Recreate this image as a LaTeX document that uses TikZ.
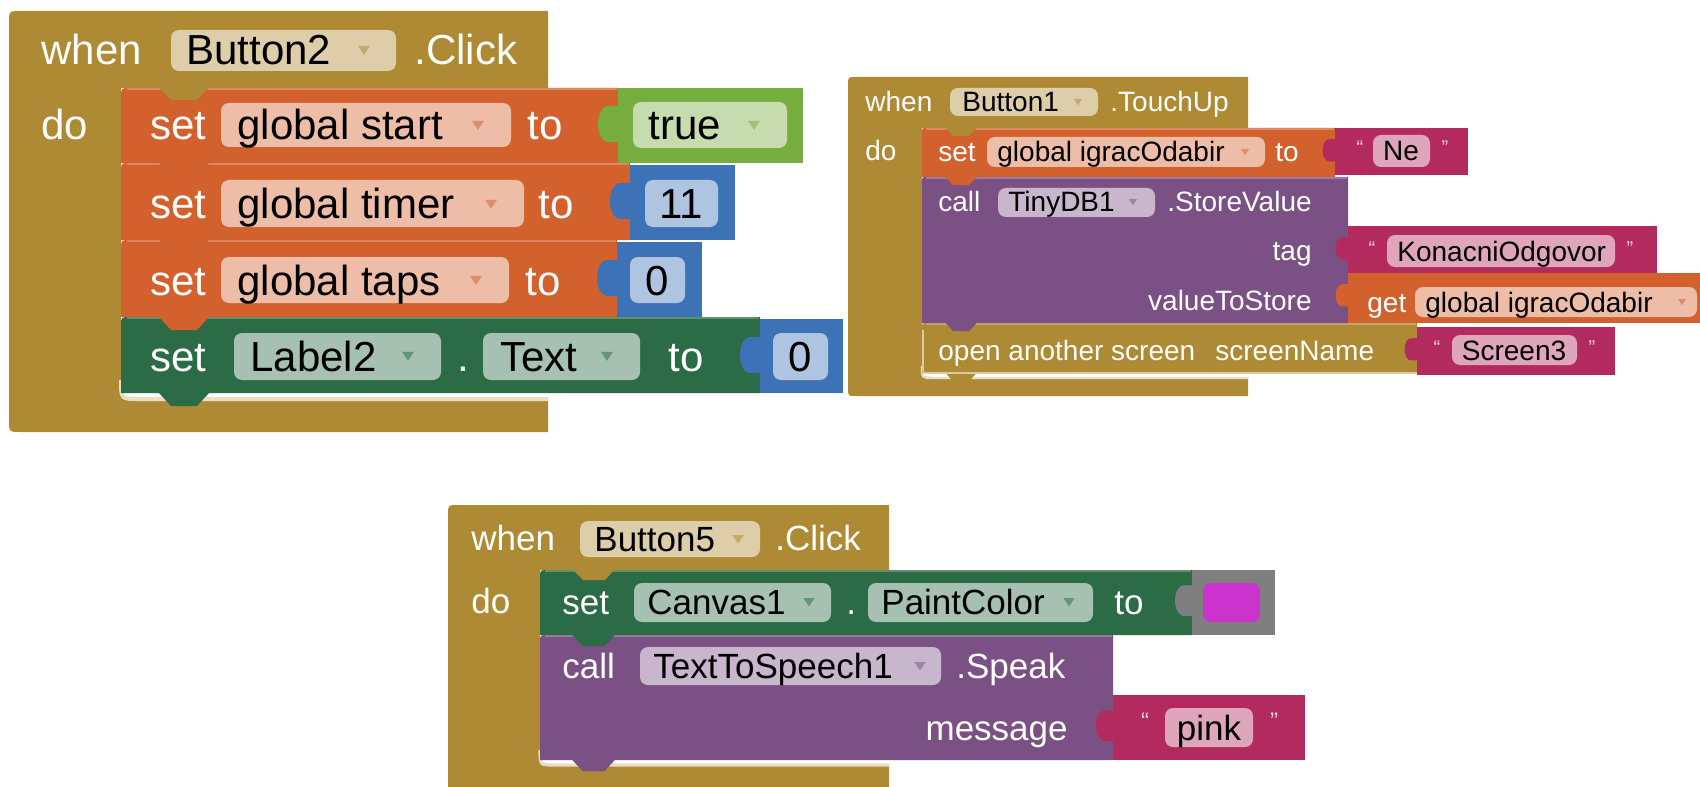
\documentclass[tikz,border=0pt]{standalone}
\usepackage{fontspec}
\setmainfont{Liberation Sans}
\definecolor{ctrl}{HTML}{AD8A33}
\definecolor{varo}{HTML}{D3612E}
\definecolor{cgreen}{HTML}{2B6B46}
\definecolor{lgreen}{HTML}{77AC3F}
\definecolor{mblue}{HTML}{3E72B6}
\definecolor{purp}{HTML}{7B5085}
\definecolor{mag}{HTML}{B32A5E}
\definecolor{cgray}{HTML}{7F7F7F}
\definecolor{swatch}{HTML}{CB33CC}
% statement block: color, x1, y1, x2, y2, scale
\newcommand\bkStmt[6]{%
 \fill[#1] (#2,#5) -- (#2,{#3+9*#6}) .. controls (#2,#3) .. ({#2+9*#6},#3) -- (#4,#3) -- (#4,#5) -- ({#2+88*#6},#5) -- ({#2+76*#6},{#5+13*#6}) -- ({#2+50*#6},{#5+13*#6}) -- ({#2+38*#6},#5) -- cycle;
 \draw[#1!75!white, line width=0.6pt] ({#2+6*#6},{#3+1}) -- ({#4-1},{#3+1});}
% value block: color, x1, y1, x2, y2, scale
\newcommand\bkVal[6]{%
 \fill[#1] (#2,#3) rectangle (#4,#5);
 \fill[#1] ({#2+1},{#3+18*#6}) -- ({#2-8*#6},{#3+18*#6}) .. controls ({#2-24*#6},{#3+16*#6}) and ({#2-24*#6},{#3+56*#6}) .. ({#2-8*#6},{#3+54*#6}) -- ({#2+1},{#3+54*#6}) -- cycle;}
% field: x1 y1 x2 y2 color
\newcommand\bkFld[5]{\fill[white!58!#5, rounded corners=4pt] (#1,#2) rectangle (#3,#4);}
% dropdown arrow: cx cy size color
\newcommand\bkArr[4]{\fill[#4!72!white] ({#1-#3},{#2-0.7*#3}) -- ({#1+#3},{#2-0.7*#3}) -- (#1,{#2+0.8*#3}) -- cycle;}
\tikzset{
 t1/.style={font=\fontsize{21}{21}\selectfont, text height=15pt, text depth=0pt, inner sep=0pt, anchor=west, text=white},
 f1/.style={t1, text=black},
 t2/.style={font=\fontsize{14}{14}\selectfont, text height=10pt, text depth=0pt, inner sep=0pt, anchor=west, text=white},
 f2/.style={t2, text=black},
 t3/.style={font=\fontsize{17.5}{17.5}\selectfont, text height=12.5pt, text depth=0pt, inner sep=0pt, anchor=west, text=white},
 f3/.style={t3, text=black},
 q2/.style={font=\fontsize{10}{10}\selectfont, text=white!80!mag, anchor=base, inner sep=0pt},
 q3/.style={font=\fontsize{12}{12}\selectfont, text=white!80!mag, anchor=base, inner sep=0pt},
}
\begin{document}
\begin{tikzpicture}[x=0.5pt,y=-0.5pt]
\useasboundingbox (0,0) rectangle (1700,786);
\fill[white] (0,0) rectangle (1700,786);
\clip (0,0) rectangle (1700,786);

%================ Block 1 =================
\fill[ctrl] (548,88) -- (548,11) -- (21,11) .. controls (9,11) .. (9,23) -- (9,420) .. controls (9,432) .. (21,432) -- (548,432) -- (548,397) -- (135,397) .. controls (121,397) .. (121,383) -- (121,88) -- cycle;
\draw[white!72!ctrl, line width=2pt] (121,380) .. controls (121,399) .. (138,399) -- (548,399);
\bkStmt{cgreen}{121}{317}{760}{393}{1}
\bkStmt{varo}{121}{240}{617}{317}{1}
\bkStmt{varo}{121}{163}{630}{240}{1}
\bkStmt{varo}{121}{88}{618}{163}{1}
\fill[ctrl] (159,87) -- (171,100) -- (197,100) -- (209,87) -- cycle;
\bkVal{lgreen}{618}{88}{803}{163}{1}
\bkVal{mblue}{630}{165}{735}{240}{1}
\bkVal{mblue}{617}{242}{702}{317}{1}
\bkVal{mblue}{760}{319}{843}{393}{1}

\node[t1] (w1) at (41,50) {when};
\bkFld{171}{30}{396}{71}{ctrl}
\node[f1] (btn2) at (186,50) {Button2};
\bkArr{364}{50}{6}{ctrl}
\node[t1] (clk1) at (414,50) {.Click};
\node[t1] (do1) at (41,125) {do};

\node[t1] (set1) at (150,125) {set};
\bkFld{221}{103}{511}{147}{varo}
\node[f1] (gs) at (237,125) {global start};
\bkArr{478}{125}{6}{varo}
\node[t1] (to1) at (527,125) {to};
\bkFld{633}{102}{787}{148}{lgreen}
\node[f1] (tru) at (648,125) {true};
\bkArr{754}{125}{6}{lgreen}

\node[t1] (set2) at (150,204) {set};
\bkFld{221}{180}{524}{227}{varo}
\node[f1] (gt) at (237,204) {global timer};
\bkArr{491}{204}{6}{varo}
\node[t1] (to2) at (538,204) {to};
\bkFld{645}{180}{718}{227}{mblue}
\node[f1, anchor=center] (n11) at (681,204) {11};

\node[t1] (set3) at (150,280) {set};
\bkFld{221}{257}{509}{303}{varo}
\node[f1] (gtp) at (237,280) {global taps};
\bkArr{476}{280}{6}{varo}
\node[t1] (to3) at (525,280) {to};
\bkFld{630}{257}{685}{303}{mblue}
\node[f1, anchor=center] (n0a) at (657,280) {0};

\node[t1] (set4) at (150,356) {set};
\bkFld{234}{333}{441}{380}{cgreen}
\node[f1] (lb2) at (250,356) {Label2};
\bkArr{408}{356}{6}{cgreen}
\node[t1] (dot1) at (457,356) {.};
\bkFld{483}{333}{640}{380}{cgreen}
\node[f1] (txt) at (500,356) {Text};
\bkArr{607}{356}{6}{cgreen}
\node[t1] (to4) at (668,356) {to};
\bkFld{773}{333}{828}{380}{mblue}
\node[f1, anchor=center] (n0b) at (800,356) {0};

%================ Block 2 =================
\fill[ctrl] (1248,128) -- (1248,77) -- (856,77) .. controls (848,77) .. (848,85) -- (848,388) .. controls (848,396) .. (856,396) -- (1248,396) -- (1248,377) -- (931,377) .. controls (922,377) .. (922,368) -- (922,128) -- cycle;
\draw[white!72!ctrl, line width=1.2pt] (922,366) .. controls (922,378) .. (933,378) -- (1248,378);
\bkStmt{ctrl}{922}{323}{1417}{373}{0.62}
\draw[white!55!ctrl, line width=0.8pt] (1417,373) -- (928,373) .. controls (923,373) .. (923,368) -- (923,330);
\bkStmt{purp}{922}{177}{1348}{323}{0.62}
\bkStmt{varo}{922}{128}{1335}{177}{0.62}
\fill[ctrl] (945,127) -- (953,136) -- (969,136) -- (977,127) -- cycle;
\bkVal{mag}{1335}{128}{1468}{175}{0.62}
\bkVal{mag}{1348}{226}{1657}{273}{0.62}
\bkVal{varo}{1348}{273}{1700}{323}{0.62}
\bkVal{mag}{1417}{327}{1615}{375}{0.62}

\node[t2] (w2) at (865,102) {when};
\bkFld{950}{88}{1098}{116}{ctrl}
\node[f2] (btn1) at (962,102) {Button1};
\bkArr{1078}{102}{4}{ctrl}
\node[t2] (tup) at (1110,102) {.TouchUp};
\node[t2] (do2) at (865,151) {do};
\node[t2] (set5) at (938,152) {set};
\bkFld{987}{137}{1265}{167}{varo}
\node[f2] (gio) at (997,152) {global igracOdabir};
\bkArr{1245}{152}{4}{varo}
\node[t2] (to5) at (1275,152) {to};
\node[q2] (qa1) at (1360,155) {“};
\bkFld{1373}{135}{1430}{167}{mag}
\node[f2, anchor=center] (ne) at (1401,151) {Ne};
\node[q2] (qa2) at (1445,155) {”};

\node[t2] (call1) at (938,202) {call};
\bkFld{998}{188}{1155}{217}{purp}
\node[f2] (tdb) at (1008,202) {TinyDB1};
\bkArr{1133}{202}{4}{purp}
\node[t2] (sv) at (1167,202) {.StoreValue};
\node[t2, anchor=east] (tag) at (1312,250) {tag};
\node[t2, anchor=east] (vts) at (1312,300) {valueToStore};
\node[q2] (qb1) at (1372,255) {“};
\bkFld{1387}{235}{1615}{267}{mag}
\node[f2] (kon) at (1397,251) {KonacniOdgovor};
\node[q2] (qb2) at (1630,255) {”};
\node[t2] (get) at (1367,302) {get};
\bkFld{1415}{287}{1697}{317}{varo}
\node[f2] (gio2) at (1425,302) {global igracOdabir};
\bkArr{1682}{302}{4}{varo}
\node[t2] (oas) at (938,350) {open another screen};
\node[t2] (scn) at (1215,350) {screenName};
\node[q2] (qc1) at (1437,354) {“};
\bkFld{1452}{335}{1577}{365}{mag}
\node[f2, anchor=center] (scr3) at (1514,350) {Screen3};
\node[q2] (qc2) at (1592,354) {”};

%================ Block 3 =================
\fill[ctrl] (889,570) -- (889,505) -- (458,505) .. controls (448,505) .. (448,515) -- (448,800) -- (889,800) -- (889,764) -- (551,764) .. controls (540,764) .. (540,753) -- (540,570) -- cycle;
\draw[white!72!ctrl, line width=1.6pt] (540,750) .. controls (540,765) .. (554,765) -- (889,765);
\bkStmt{purp}{540}{635}{1113}{760}{0.85}
\bkStmt{cgreen}{540}{570}{1192}{635}{0.85}
\fill[ctrl] (572,569) -- (583,580) -- (605,580) -- (615,569) -- cycle;
\bkVal{cgray}{1192}{570}{1275}{635}{0.85}
\fill[swatch, rounded corners=4pt] (1203,583) rectangle (1260,622);
\bkVal{mag}{1113}{695}{1305}{760}{0.85}

\node[t3] (w3) at (471,538) {when};
\bkFld{580}{521}{760}{557}{ctrl}
\node[f3] (btn5) at (594,539) {Button5};
\bkArr{738}{539}{5.5}{ctrl}
\node[t3] (clk3) at (775,538) {.Click};
\node[t3] (do3) at (471,601) {do};
\node[t3] (set6) at (562,602) {set};
\bkFld{634}{583}{831}{622}{cgreen}
\node[f3] (cv) at (647,602) {Canvas1};
\bkArr{809}{602}{5.5}{cgreen}
\node[t3] (dot2) at (846,602) {.};
\bkFld{868}{583}{1093}{622}{cgreen}
\node[f3] (pc) at (881,602) {PaintColor};
\bkArr{1069}{602}{5.5}{cgreen}
\node[t3] (to6) at (1114,602) {to};
\node[t3] (call2) at (562,666) {call};
\bkFld{640}{647}{941}{685}{purp}
\node[f3] (tts) at (653,666) {TextToSpeech1};
\bkArr{920}{666}{5.5}{purp}
\node[t3] (spk) at (956,666) {.Speak};
\node[t3, anchor=east] (msg) at (1068,728) {message};
\node[q3] (qd1) at (1145,729) {“};
\bkFld{1165}{708}{1253}{747}{mag}
\node[f3, anchor=center] (pink) at (1209,728) {pink};
\node[q3] (qd2) at (1274,729) {”};
\end{tikzpicture}
\end{document}
